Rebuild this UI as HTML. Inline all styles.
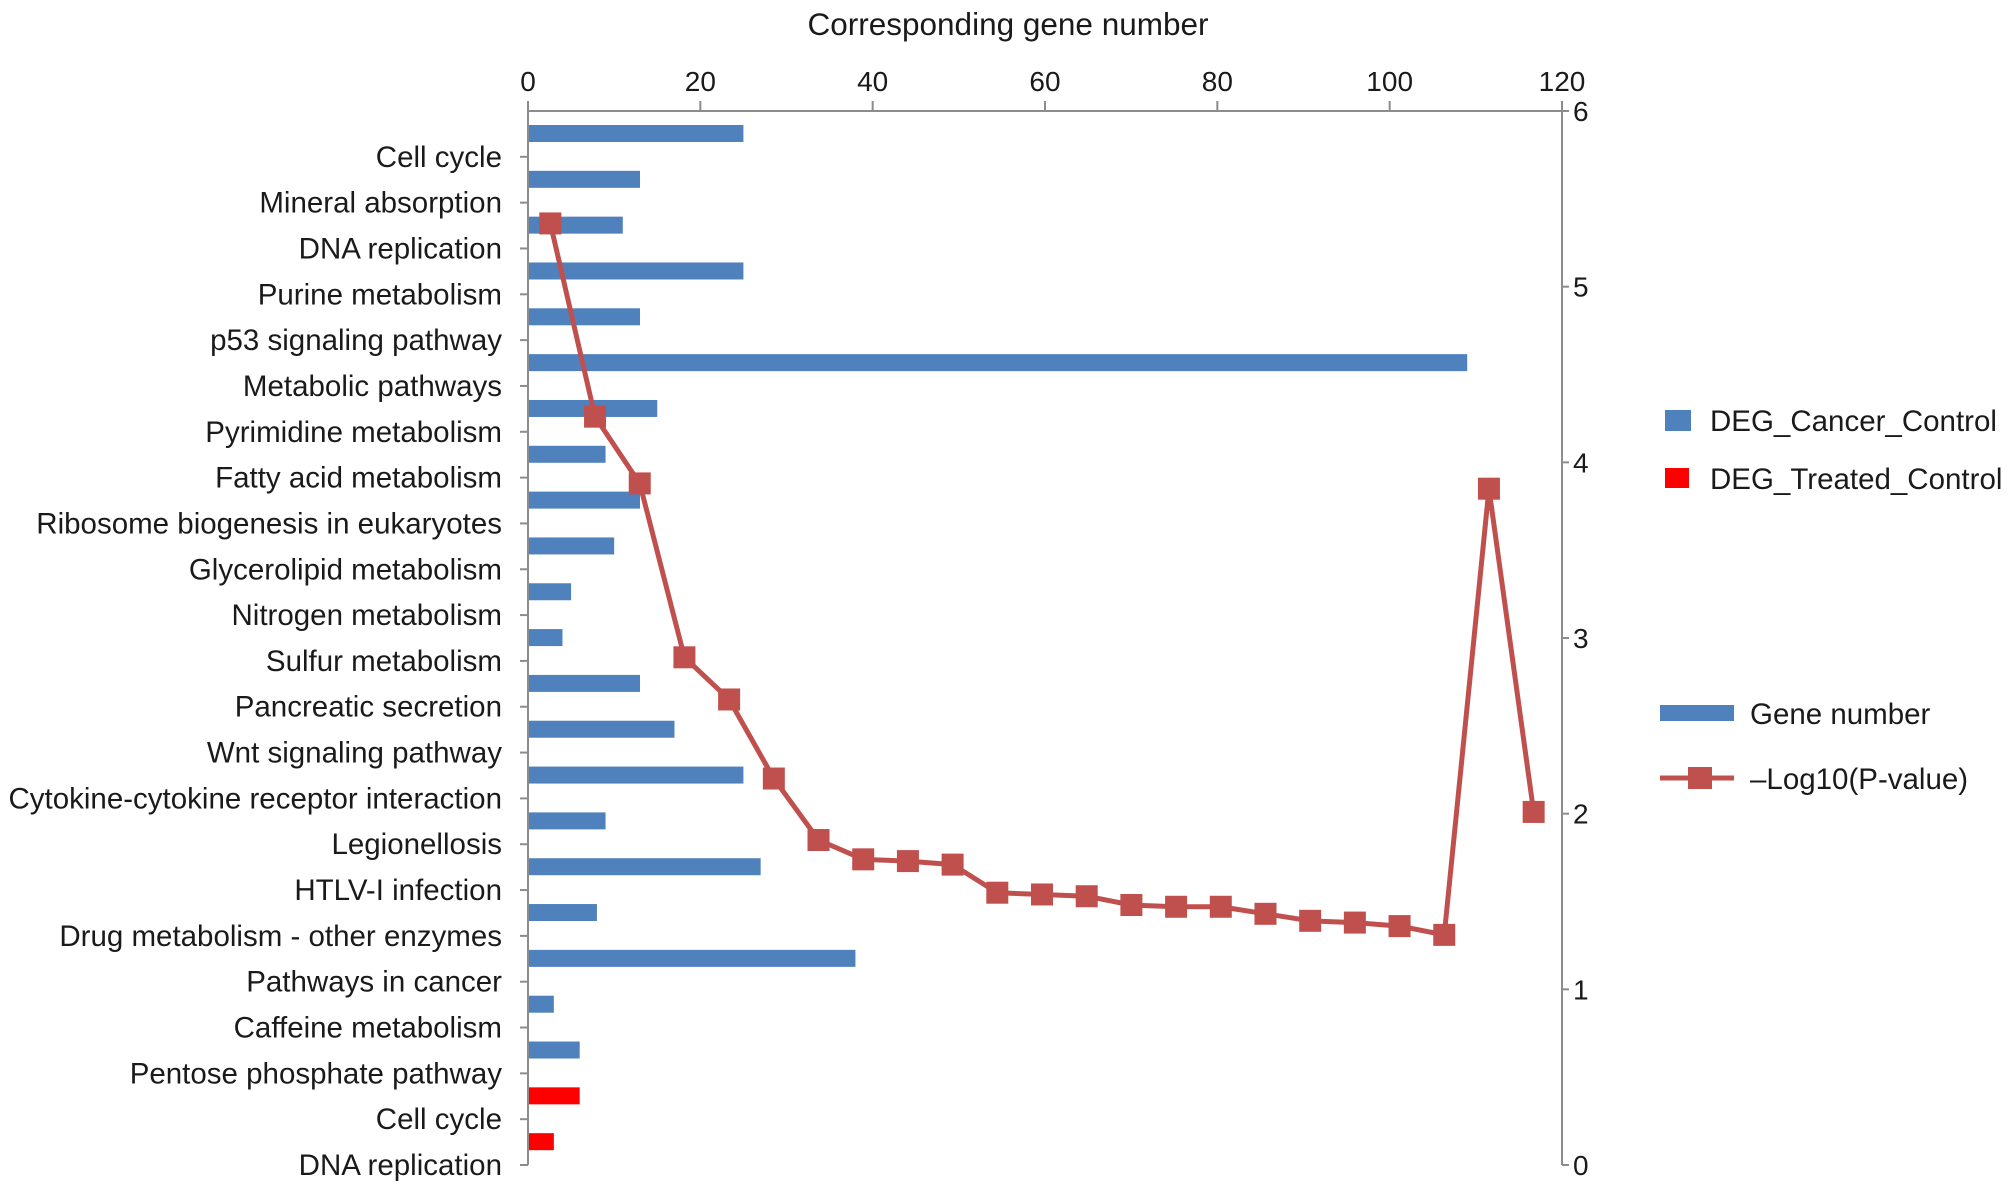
<!DOCTYPE html>
<html><head><meta charset="utf-8"><style>
body{margin:0;background:#fff;}
svg text{font-family:"Liberation Sans",Arial,sans-serif;fill:#1a1a1a;}
</style></head><body>
<svg id="chart" width="2008" height="1193" viewBox="0 0 2008 1193" xmlns="http://www.w3.org/2000/svg">
<g id="axes"></g><g id="bars"></g><g id="line"></g><g id="legend"></g>
</svg>
<script>
const categories=["Cell cycle","Mineral absorption","DNA replication","Purine metabolism","p53 signaling pathway","Metabolic pathways","Pyrimidine metabolism","Fatty acid metabolism","Ribosome biogenesis in eukaryotes","Glycerolipid metabolism","Nitrogen metabolism","Sulfur metabolism","Pancreatic secretion","Wnt signaling pathway","Cytokine-cytokine receptor interaction","Legionellosis","HTLV-I infection","Drug metabolism - other enzymes","Pathways in cancer","Caffeine metabolism","Pentose phosphate pathway","Cell cycle","DNA replication"];
const geneCounts=[25,13,11,25,13,109,15,9,13,10,5,4,13,17,25,9,27,8,38,3,6,6,3];
const groups=["cancer","cancer","cancer","cancer","cancer","cancer","cancer","cancer","cancer","cancer","cancer","cancer","cancer","cancer","cancer","cancer","cancer","cancer","cancer","cancer","cancer","treated","treated"];
const logP=[5.36,4.26,3.88,2.89,2.65,2.20,1.85,1.74,1.73,1.71,1.55,1.54,1.53,1.48,1.47,1.47,1.43,1.39,1.38,1.36,1.31,3.85,2.01];
const xTicks=[0,20,40,60,80,100,120];
const yTicks=[0,1,2,3,4,5,6];

const NS="http://www.w3.org/2000/svg";
const L=528,R=1562,T=111,B=1165;
const xS=v=>L+(R-L)*v/120;
const yS=v=>B-(B-T)*v/6;
const band=(B-T)/categories.length;
const lineX=i=>L+(R-L-6)/categories.length*(i+0.5);
function mk(tag,attrs,parent,text){const e=document.createElementNS(NS,tag);for(const k in attrs)e.setAttribute(k,attrs[k]);if(text!==undefined)e.textContent=text;parent.appendChild(e);return e;}
const axes=document.getElementById('axes'),bars=document.getElementById('bars'),line=document.getElementById('line'),legend=document.getElementById('legend');

let t=mk('text',{x:1008,y:35,'font-size':31.5,'text-anchor':'middle'},axes,'Corresponding gene number');


let a=mk('line',{x1:L,y1:T,x2:R,y2:T,stroke:'#8c8c8c','stroke-width':2},axes);


a=mk('line',{x1:L,y1:T,x2:L,y2:B,stroke:'#8c8c8c','stroke-width':2},axes);


a=mk('line',{x1:R,y1:T,x2:R,y2:B,stroke:'#8c8c8c','stroke-width':2},axes);


xTicks.forEach(v=>{
  mk('line',{x1:xS(v),y1:T-10,x2:xS(v),y2:T,stroke:'#8c8c8c','stroke-width':2},axes);
  const e=mk('text',{x:xS(v),y:91,'font-size':28,'text-anchor':'middle'},axes,String(v));
  
  
});
yTicks.forEach(v=>{
  mk('line',{x1:R,y1:yS(v),x2:R+7,y2:yS(v),stroke:'#8c8c8c','stroke-width':2},axes);
  const e=mk('text',{x:1573,y:yS(v)+10,'font-size':28},axes,String(v));
  
  
});
categories.forEach((c,i)=>{
  const ty=T+band*(i+1);
  mk('line',{x1:L-8,y1:ty,x2:L,y2:ty,stroke:'#8c8c8c','stroke-width':2},axes);
  const e=mk('text',{x:502,y:ty+10,'font-size':29.5,'text-anchor':'end'},axes,c);
  
  
  const b=mk('rect',{x:L+1,y:T+band*i+14,width:xS(geneCounts[i])-L-1,height:17,fill:groups[i]==='treated'?'#ff0000':'#4f81bd'},bars);
  
  
});
const pts=logP.map((v,i)=>lineX(i)+','+yS(v)).join(' ');
const pl=mk('polyline',{points:pts,fill:'none',stroke:'#c0504d','stroke-width':5,'stroke-linejoin':'round'},line);


logP.forEach((v,i)=>{
  const m=mk('rect',{x:lineX(i)-11,y:yS(v)-11,width:22,height:22,fill:'#c0504d'},line);
  
  
});
let g;
g=mk('rect',{x:1665,y:410,width:26,height:21,fill:'#4f81bd'},legend);


g=mk('text',{x:1710,y:431,'font-size':29.5},legend,'DEG_Cancer_Control');


g=mk('rect',{x:1665,y:468,width:24,height:20,fill:'#ff0000'},legend);


g=mk('text',{x:1710,y:489,'font-size':29.5},legend,'DEG_Treated_Control');


g=mk('rect',{x:1660,y:705,width:74,height:16,fill:'#4f81bd'},legend);


g=mk('text',{x:1750,y:724,'font-size':29.5},legend,'Gene number');


g=mk('line',{x1:1660,y1:778,x2:1734,y2:778,stroke:'#c0504d','stroke-width':5},legend);


g=mk('rect',{x:1688,y:767,width:24,height:22,fill:'#c0504d'},legend);


g=mk('text',{x:1750,y:789,'font-size':29.5},legend,'\u2013Log10(P-value)');


</script>
</body></html>
